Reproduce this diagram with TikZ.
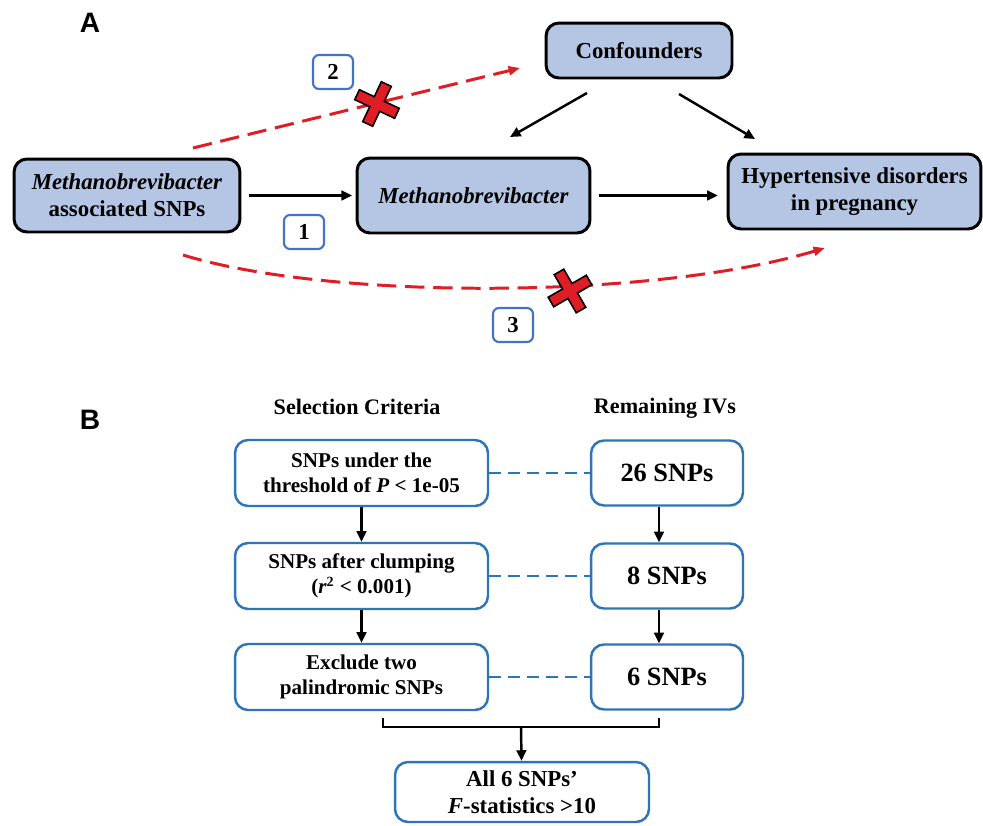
\documentclass[tikz,border=0pt]{standalone}
\usepackage{fontspec}
\setmainfont{Liberation Serif}
\setsansfont{Liberation Sans}
\usepackage{xcolor}
\usetikzlibrary{arrows.meta}
\definecolor{boxfill}{RGB}{180,198,228}
\definecolor{flowblue}{RGB}{46,117,182}
\definecolor{numblue}{RGB}{68,114,196}
\definecolor{nored}{RGB}{222,29,36}

\tikzset{nocross/.pic={
\filldraw[fill=nored,draw=black,line width=0.9pt] (5.5,5.5) -- (22,5.5) -- (22,-5.5) -- (5.5,-5.5) -- (5.5,-22) -- (-5.5,-22)
 -- (-5.5,-5.5) -- (-22,-5.5) -- (-22,5.5) -- (-5.5,5.5) -- (-5.5,22) -- (5.5,22) -- cycle;}}

\begin{document}
\begin{tikzpicture}[x=0.02cm,y=-0.02cm,
abox/.style={draw=black,line width=1.7pt,fill=boxfill,rounded corners=0.26cm,align=center,font=\fontsize{13}{15.4}\selectfont\bfseries},
numbox/.style={draw=numblue,line width=1.2pt,rounded corners=0.12cm,minimum width=0.8cm,minimum height=0.68cm,inner sep=0pt,font=\fontsize{13}{15}\selectfont\bfseries},
critbox/.style={draw=flowblue,line width=1.4pt,rounded corners=0.26cm,minimum width=5.06cm,minimum height=1.32cm,align=center,font=\fontsize{12}{14.2}\selectfont\bfseries},
ivbox/.style={draw=flowblue,line width=1.4pt,rounded corners=0.26cm,minimum width=3.04cm,minimum height=1.3cm,font=\fontsize{15}{17}\selectfont\bfseries},
arr/.style={line width=1.4pt,-{Triangle[length=6pt,width=5.5pt]}},
redarr/.style={draw=nored,line width=1.7pt,dash pattern=on 11pt off 5pt,-{Triangle[length=6.5pt,width=5pt]}},
link/.style={draw=flowblue,line width=1.4pt,dash pattern=on 6.8pt off 4pt},
panel/.style={font=\fontsize{16}{18}\selectfont\sffamily\bfseries},
head/.style={font=\fontsize{12.6}{15}\selectfont\bfseries}]
\useasboundingbox (0,0) rectangle (983,825);

\node[panel] (labA) at (90,23) {A};
\node[panel] (labB) at (90,420) {B};

\node[abox,minimum width=4.52cm,minimum height=1.46cm] (snp) at (127,195.5) {\textit{Methanobrevibacter}\\associated SNPs};
\node[abox,minimum width=4.66cm,minimum height=1.5cm] (meth) at (473.5,195.5) {\textit{Methanobrevibacter}};
\node[abox,minimum width=3.72cm,minimum height=1.1cm] (conf) at (639,50.5) {Confounders};
\node[abox,minimum width=5.06cm,minimum height=1.5cm] (hyp) at (854.5,191.5) {Hypertensive disorders\\in pregnancy};

\draw[arr,shorten <=4pt,shorten >=2pt] (snp) -- (meth);
\draw[arr,shorten <=4pt,shorten >=5pt] (meth) -- (meth -| hyp.west);

\coordinate (confA) at (587,93);
\coordinate (confB) at (510,137);
\coordinate (confC) at (679,94);
\coordinate (confD) at (755,139);
\draw[arr] (confA) -- (confB);
\draw[arr] (confC) -- (confD);

\coordinate (twoA) at (193,148);
\coordinate (twoB) at (520,68);
\draw[redarr] (twoA) -- (twoB);
\coordinate (threeA) at (183,255);
\coordinate (threeB) at (825,248);
\draw[redarr] (threeA) .. controls (330,300) and (650,300) .. (threeB);

\pic[rotate=-25] at (377,104) {nocross};
\pic[rotate=30] at (570,291) {nocross};

\node[numbox] (one) at (304,232) {1};
\node[numbox] (two) at (333,72) {2};
\node[numbox] (three) at (513,325) {3};



\node[head] (hcrit) at (357,407) {Selection Criteria};
\node[head] (hiv) at (665,408) {Remaining IVs};

\node[critbox] (crit1) at (361.5,473) {SNPs under the\\threshold of \textit{P} < 1e-05};
\node[critbox] (crit2) at (361.5,576) {SNPs after clumping\\(\textit{r}\textsuperscript{2} < 0.001)};
\node[critbox] (crit3) at (361.5,677) {Exclude two\\palindromic SNPs};

\node[ivbox] (iv1) at (667,473) {26 SNPs};
\node[ivbox] (iv2) at (667,576) {8 SNPs};
\node[ivbox] (iv3) at (667,677) {6 SNPs};

\draw[link] (crit1) -- (iv1);
\draw[link] (crit2) -- (iv2);
\draw[link] (crit3) -- (iv3);

\draw[arr] (crit1) -- (crit2);
\draw[arr] (crit2) -- (crit3);
\draw[arr] (iv1.south -| 659,0) -- (iv2.north -| 659,0);
\draw[arr] (iv2.south -| 659,0) -- (iv3.north -| 659,0);

\node[critbox,minimum width=5.08cm,minimum height=1.2cm,font=\fontsize{13}{15.4}\selectfont\bfseries] (final) at (522,792) {All 6 SNPs’\\\textit{F}-statistics >10};

\coordinate (brkL) at (383,718);
\coordinate (brkR) at (659,718);
\coordinate (brkM) at (521,727);
\draw[line width=1.4pt] (brkL) -- (383,727) -- (659,727) -- (brkR);
\draw[arr] (brkM) -- (final);
\end{tikzpicture}
\end{document}
